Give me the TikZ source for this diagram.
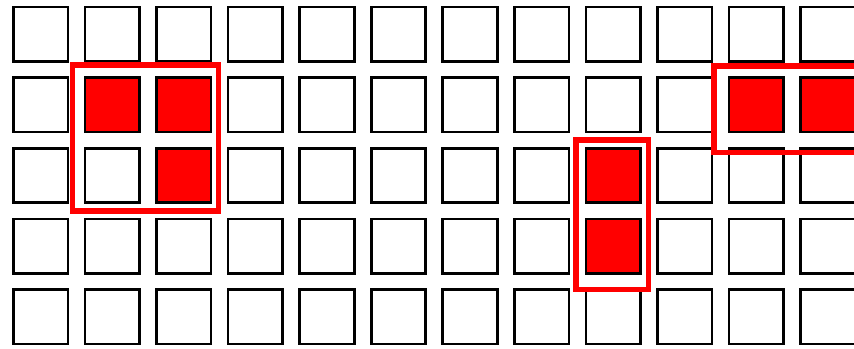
\documentclass[tikz,border=0pt]{standalone}
\usepackage{tikz}
\usetikzlibrary{positioning}
\tikzset{
  cell/.style={draw=black,line width=0.027cm,minimum size=0.545cm,inner sep=0pt,fill=white},
  hot/.style={cell,fill=red},
  hilite/.style={draw=red,line width=0.057cm}
}
\newcommand{\colpitch}{71.55}
\newcommand{\rowpitch}{70.65}

\begin{document}
\begin{tikzpicture}[x=0.01cm,y=-0.01cm]
\clip (0,0) rectangle (854,348);
% grid of cells
\foreach \r in {0,...,4}{
  \foreach \c in {0,...,11}{
    \node[cell] (s-\r-\c) at ({40.75+\colpitch*\c},{34.2+\rowpitch*\r}) {};
  }
}
% filled cells
\foreach \r/\c in {1/1,1/2,2/2,2/8,3/8,1/10,1/11}{
  \node[hot] at (s-\r-\c) {};
}
% highlight boxes
\draw[hilite] (72.5,65.2) rectangle (218.5,210.8);
\draw[hilite] (576.3,140) rectangle (648.5,289.5);
\draw[hilite] (713.7,66.2) rectangle (880,152.5);
\end{tikzpicture}
\end{document}
